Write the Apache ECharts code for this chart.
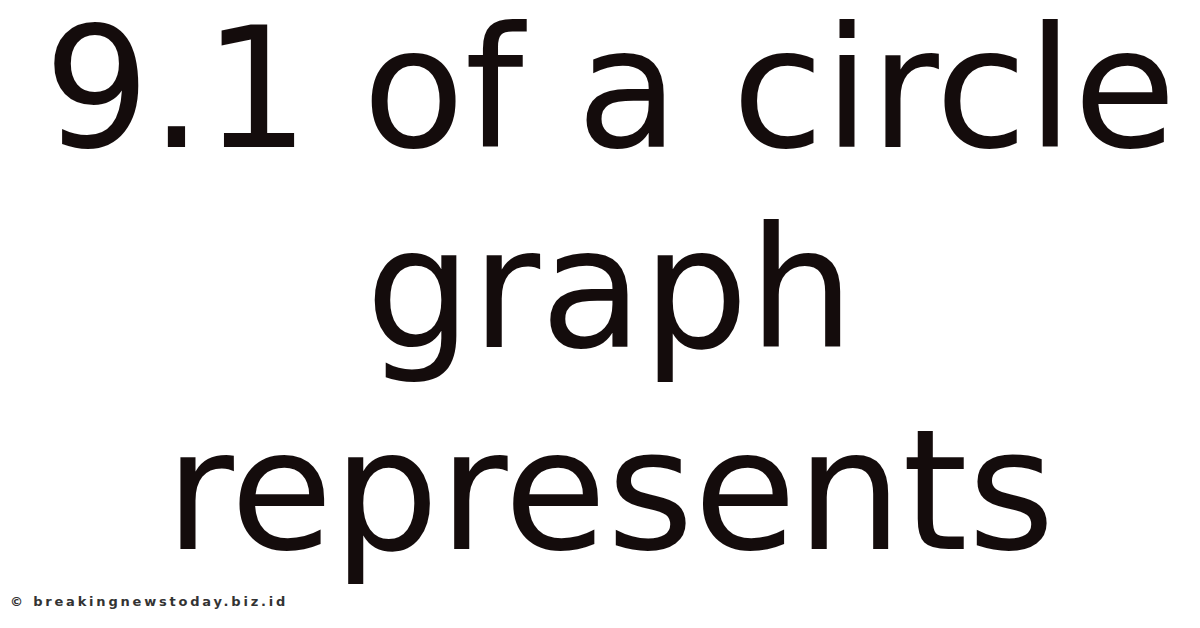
<!DOCTYPE html>
<html><head><meta charset="utf-8">
<script src="https://cdn.jsdelivr.net/npm/echarts@6/dist/echarts.min.js"></script>
<style>html,body{margin:0;padding:0;background:#fff}#c{width:1200px;height:628px}</style>
</head><body><div id="c"></div>
<script>
var titleLines = ["9.1 of a circle", "graph", "represents"];
var watermark = ["© breakingnewstoday.biz.id"];
var chart = echarts.init(document.getElementById('c'), null, {renderer: 'svg'});
var lineY = [89, 289, 491];
var elements = titleLines.map(function (t, i) {
  return {type: 'text', x: 610, y: lineY[i],
    style: {text: t, fill: '#140c0c', font: '167px "DejaVu Sans"', align: 'center', verticalAlign: 'middle'}};
});
elements.push({type: 'text', x: 10, y: 601,
  style: {text: watermark[0], fill: '#333', font: 'bold 13px "DejaVu Sans"', align: 'left', verticalAlign: 'middle'}});
chart.setOption({backgroundColor: '#fff', graphic: {elements: elements}});
function spaceWatermark() {
  document.querySelectorAll('#c text').forEach(function (el) {
    if (el.textContent.indexOf('breaking') >= 0) el.setAttribute('letter-spacing', '2.8');
  });
}
spaceWatermark();
chart.on('finished', spaceWatermark);
</script></body></html>
